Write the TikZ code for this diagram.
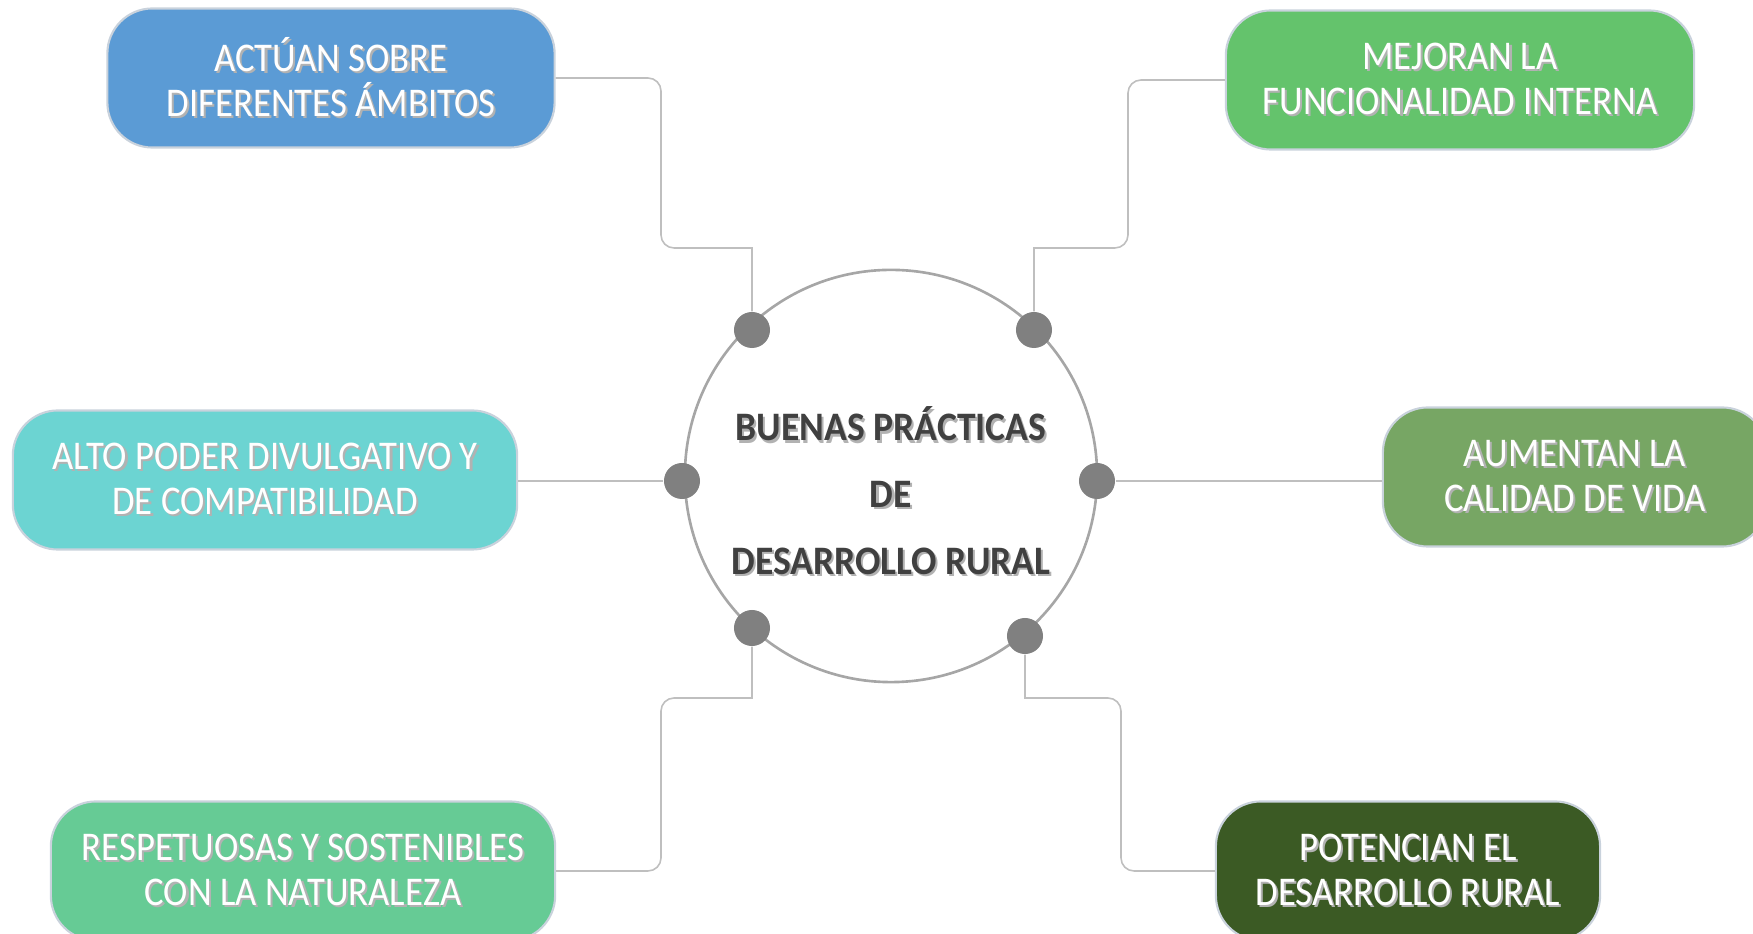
\documentclass[tikz,border=0pt]{standalone}
\usepackage{fontspec}
\setmainfont{Carlito}
\newfontfamily\cajafont[FakeStretch=0.9]{Carlito}
\newfontfamily\centrofont[FakeStretch=0.93]{Carlito}
\usetikzlibrary{positioning}

\definecolor{ambitos}{HTML}{5B9BD5}
\definecolor{funcional}{HTML}{64C36C}
\definecolor{divulga}{HTML}{6CD4D2}
\definecolor{calidad}{HTML}{77A664}
\definecolor{sostenible}{HTML}{66CB95}
\definecolor{potencia}{HTML}{3B5A24}
\definecolor{boxedge}{HTML}{C9D2DC}
\definecolor{ringgray}{HTML}{A6A6A6}
\definecolor{dotgray}{HTML}{808080}
\definecolor{linkgray}{HTML}{BFBFBF}
\definecolor{hubtext}{HTML}{404040}

% text with a small drop shadow
\newcommand{\sombra}[2][white]{\makebox[0pt][l]{\hspace{0.6pt}\raisebox{-0.6pt}{\textcolor{black!30}{#2}}}\textcolor{#1}{#2}}

\tikzset{
  idea/.style = {shape=rectangle, rounded corners=0.45cm,
                 draw=boxedge, line width=0.6pt, align=center,
                 minimum height=1.39cm, inner sep=0pt,
                 font=\cajafont\fontsize{11.6}{12.8}\selectfont},
  hub/.style  = {shape=circle, draw=ringgray, line width=0.75pt,
                 minimum size=4.12cm, inner sep=0pt},
  dot/.style  = {shape=circle, fill=dotgray, minimum size=0.36cm, inner sep=0pt},
  link/.style = {draw=linkgray, line width=0.45pt}
}

\begin{document}
\begin{tikzpicture}[x=0.01cm, y=-0.01cm]
\useasboundingbox (0,0) rectangle (1753,934);

% central circle
\node[hub] (hub) at (891,476) {};
\node[font=\centrofont\fontsize{11.5}{19}\selectfont\bfseries, align=center] (titulo) at (891,492)
  {\sombra[hubtext]{BUENAS PRÁCTICAS}\\ \sombra[hubtext]{DE}\\ \sombra[hubtext]{DESARROLLO RURAL}};

% boxes
\node[idea, fill=ambitos, minimum width=4.47cm] (b1) at (331,78)
  {\sombra{ACTÚAN SOBRE}\\ \sombra{DIFERENTES ÁMBITOS}};
\node[idea, fill=funcional, minimum width=4.68cm] (b2) at (1460,80)
  {\sombra{MEJORAN LA}\\ \sombra{FUNCIONALIDAD INTERNA}};
\node[idea, fill=divulga, minimum width=5.04cm] (b3) at (265,480)
  {\sombra{ALTO PODER DIVULGATIVO Y}\\ \sombra{DE COMPATIBILIDAD}};
\node[idea, fill=calidad, minimum width=3.84cm] (b4) at (1575,477)
  {\sombra{AUMENTAN LA}\\ \sombra{CALIDAD DE VIDA}};
\node[idea, fill=sostenible, minimum width=5.04cm] (b5) at (303,871)
  {\sombra{RESPETUOSAS Y SOSTENIBLES}\\ \sombra{CON LA NATURALEZA}};
\node[idea, fill=potencia, minimum width=3.84cm] (b6) at (1408,871)
  {\sombra{POTENCIAN EL}\\ \sombra{DESARROLLO RURAL}};

% dots on the ring
\node[dot] (d1) at (752,330) {};
\node[dot] (d2) at (1034,330) {};
\node[dot] (d3) at (682,481) {};
\node[dot] (d4) at (1097,481) {};
\node[dot] (d5) at (752,628) {};
\node[dot] (d6) at (1025,636) {};

% elbows
\coordinate (k1) at (661,248);
\coordinate (k2) at (1128,248);
\coordinate (k5) at (661,698);
\coordinate (k6) at (1121,698);

% connectors
\draw[link] (b1.east) [rounded corners=0.13cm] -| (k1) [sharp corners] -| (d1);
\draw[link] (b2.west) [rounded corners=0.13cm] -| (k2) [sharp corners] -| (d2);
\draw[link] (b3.east |- d3) -- (d3);
\draw[link] (d4) -- (d4 -| b4.west);
\draw[link] (b5.east) [rounded corners=0.13cm] -| (k5) [sharp corners] -| (d5);
\draw[link] (b6.west) [rounded corners=0.13cm] -| (k6) [sharp corners] -| (d6);
\end{tikzpicture}
\end{document}
